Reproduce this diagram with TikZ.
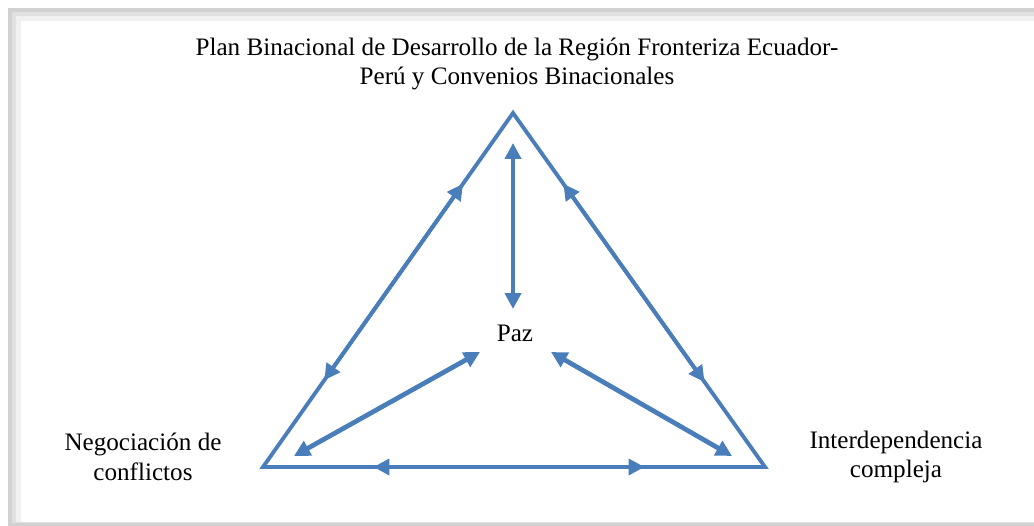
\documentclass[tikz,border=0pt]{standalone}
\usepackage{fontspec}
\setmainfont{Liberation Serif}
\usetikzlibrary{arrows.meta,calc}
\definecolor{azul}{HTML}{4A7EBB}
\begin{document}
\begin{tikzpicture}[x=0.02cm,y=-0.02cm,font=\fontsize{14.3}{17}\selectfont,
	>={Triangle[length=0.32cm,width=0.32cm]},
	lado/.style={draw=azul,line width=2.2pt},
	flecha/.style={draw=azul,fill=azul,line width=2.7pt,<->}]
	\useasboundingbox (0,0) rectangle (1034,526);
	% marco
	\fill[black!18] (8,8) rectangle (1034,526);
	\fill[black!12] (12,12) rectangle (1034,523);
	\fill[black!6] (16,16) rectangle (1034,522);
	\fill[white] (21,21) rectangle (1034,522);
	% vertices del triangulo
	\coordinate (T) at (513,113);
	\coordinate (I) at (263,467);
	\coordinate (D) at (765,467);
	\draw[lado,line join=miter] (T) -- (I) -- (D) -- cycle;
	% flechas sobre los lados
	\draw[lado,fill=azul,->] ($(I)!0.5!(T)$) -- ($(I)!0.8!(T)$);
	\draw[lado,fill=azul,->] ($(I)!0.5!(T)$) -- ($(I)!0.245!(T)$);
	\draw[lado,fill=azul,->] ($(D)!0.5!(T)$) -- ($(D)!0.8!(T)$);
	\draw[lado,fill=azul,->] ($(D)!0.5!(T)$) -- ($(D)!0.24!(T)$);
	\draw[lado,fill=azul,->] ($(I)!0.5!(D)$) -- ($(I)!0.22!(D)$);
	\draw[lado,fill=azul,->] ($(I)!0.5!(D)$) -- ($(D)!0.24!(I)$);
	% textos
	\node[align=center] (titulo) at (517,64) {Plan Binacional de Desarrollo de la Región Fronteriza Ecuador-\\Perú y Convenios Binacionales};
	\node (paz) at (515,333) {Paz};
	\node[align=center] (neg) at (143,457) {Negociación de\\conflictos};
	\node[align=center] (inter) at (896,457) {Interdependencia\\compleja};
	% flechas interiores
	\coordinate (pA) at (513,143);
	\coordinate (pB) at (513,309);
	\coordinate (iA) at (480,352);
	\coordinate (iB) at (294,456);
	\coordinate (dA) at (551,352);
	\coordinate (dB) at (732,456);
	\draw[flecha] (pA) -- (pB);
	\draw[flecha] (iA) -- (iB);
	\draw[flecha] (dA) -- (dB);
\end{tikzpicture}
\end{document}
